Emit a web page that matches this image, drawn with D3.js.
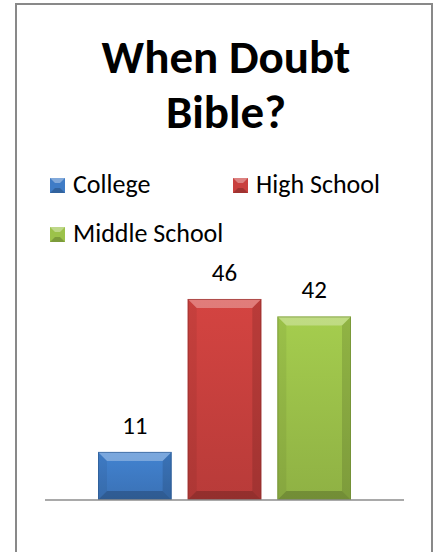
<!DOCTYPE html>
<html lang="en">
  <head>
    <meta charset="UTF-8" />
    <title>When Doubt Bible?</title>
    <script src="https://cdn.jsdelivr.net/npm/d3@7/dist/d3.min.js"></script>
    <style>
      body { margin: 0; background: #fff; }
      text { font-family: Carlito, Calibri, Lato, sans-serif; fill: #000; }
    </style>
  </head>
  <body>
    <div id="wrapper"></div>
    <script>
      const series = ["College", "High School", "Middle School"];
      const values = [11, 46, 42];
      const colors = ["#3f7cc6", "#c9403e", "#9cc24a"];
      const titleLines = ["When Doubt", "Bible?"];

      const width = 438, height = 552;
      const svg = d3.select("#wrapper").append("svg")
        .attr("width", width).attr("height", height);

      // chart border
      svg.append("rect")
        .attr("x", 16).attr("y", 4)
        .attr("width", 416).attr("height", 560)
        .attr("fill", "#fff").attr("stroke", "#898989").attr("stroke-width", 2);

      // title
      svg.append("g").selectAll("text").data(titleLines).join("text")
        .attr("x", 226)
        .attr("y", (d, i) => 73 + i * 55)
        .attr("text-anchor", "middle")
        .attr("font-weight", "bold")
        .attr("font-size", 47)
        .text(d => d);

      // legend
      const legendPos = [[50, 193], [233, 193], [50, 242]];
      const legend = svg.append("g").selectAll("g").data(series).join("g")
        .attr("transform", (d, i) => `translate(${legendPos[i][0]},${legendPos[i][1]})`);
      legend.append("rect")
        .attr("x", 0).attr("y", -15).attr("width", 15).attr("height", 15)
        .attr("fill", (d, i) => colors[i]);
      legend.append("path")
        .attr("d", "M0,-15 L15,-15 L10,-10 L5,-10 Z")
        .attr("fill", "#fff").attr("opacity", 0.35);
      legend.append("path")
        .attr("d", "M0,0 L15,0 L10,-5 L5,-5 Z")
        .attr("fill", "#000").attr("opacity", 0.2);
      legend.append("text")
        .attr("x", 23).attr("y", 0)
        .attr("font-size", 26)
        .text(d => d);

      // scales
      const x = d3.scaleBand().domain(series).range([98, 351]).paddingInner(0.179).paddingOuter(0);
      const y = d3.scaleLinear().domain([0, 50]).range([500, 281.5]);

      const defs = svg.append("defs");
      colors.forEach((c, i) => {
        const g = defs.append("linearGradient").attr("id", "grad" + i)
          .attr("x1", 0).attr("y1", 0).attr("x2", 0).attr("y2", 1);
        g.append("stop").attr("offset", "0%").attr("stop-color", d3.color(c).brighter(0.15));
        g.append("stop").attr("offset", "100%").attr("stop-color", d3.color(c).darker(0.25));
      });

      const bars = svg.append("g").selectAll("g").data(values).join("g");
      const bev = 9;
      bars.append("rect")
        .attr("x", (d, i) => x(series[i]))
        .attr("y", d => y(d))
        .attr("width", x.bandwidth())
        .attr("height", d => y(0) - y(d))
        .attr("fill", (d, i) => `url(#grad${i})`);
      // bevel faces
      const face = (d, i, side) => {
        const x0 = x(series[i]), x1 = x0 + x.bandwidth();
        const y0 = y(d), y1 = y(0);
        const b = Math.min(bev, (y1 - y0) / 2);
        if (side === "top") return `M${x0},${y0} L${x1},${y0} L${x1 - b},${y0 + b} L${x0 + b},${y0 + b} Z`;
        if (side === "bottom") return `M${x0},${y1} L${x1},${y1} L${x1 - b},${y1 - b} L${x0 + b},${y1 - b} Z`;
        if (side === "left") return `M${x0},${y0} L${x0 + b},${y0 + b} L${x0 + b},${y1 - b} L${x0},${y1} Z`;
        return `M${x1},${y0} L${x1 - b},${y0 + b} L${x1 - b},${y1 - b} L${x1},${y1} Z`;
      };
      bars.append("path").attr("d", (d, i) => face(d, i, "top")).attr("fill", "#fff").attr("opacity", 0.3);
      bars.append("path").attr("d", (d, i) => face(d, i, "left")).attr("fill", "#000").attr("opacity", 0.06);
      bars.append("path").attr("d", (d, i) => face(d, i, "right")).attr("fill", "#000").attr("opacity", 0.12);
      bars.append("path").attr("d", (d, i) => face(d, i, "bottom")).attr("fill", "#000").attr("opacity", 0.2);
      bars.append("rect")
        .attr("x", (d, i) => x(series[i]) + 0.5)
        .attr("y", d => y(d) + 0.5)
        .attr("width", x.bandwidth() - 1)
        .attr("height", d => y(0) - y(d) - 1)
        .attr("fill", "none")
        .attr("stroke", (d, i) => d3.color(colors[i]).darker(1))
        .attr("stroke-opacity", 0.6);

      // axis line
      svg.append("line")
        .attr("x1", 45).attr("x2", 404)
        .attr("y1", y(0)).attr("y2", y(0))
        .attr("stroke", "#8c8c8c").attr("stroke-width", 1.5);

      // value labels
      svg.append("g").selectAll("text").data(values).join("text")
        .attr("x", (d, i) => x(series[i]) + x.bandwidth() / 2)
        .attr("y", d => y(d) - 18)
        .attr("text-anchor", "middle")
        .attr("font-size", 25)
        .text(d => d);
    </script>
  </body>
</html>
